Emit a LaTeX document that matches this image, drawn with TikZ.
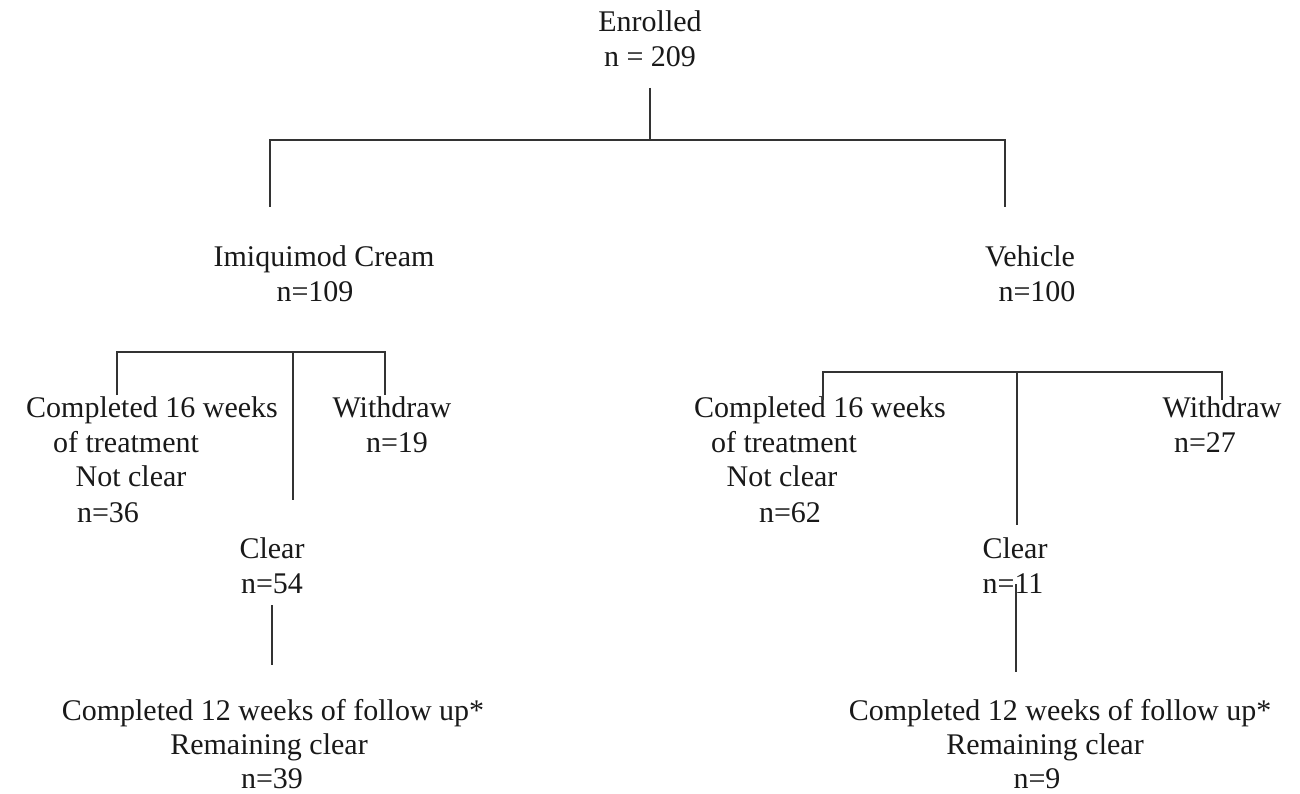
\documentclass[tikz,border=0pt]{standalone}
\usepackage{fontspec}
\setmainfont{Liberation Serif}
\begin{document}
\begin{tikzpicture}[x=1pt,y=-1pt,
  lbl/.style={anchor=base, inner sep=0pt, font=\fontsize{30}{36}\selectfont, text=black!90},
  conn/.style={draw=black!80, line width=1.5pt}]
\useasboundingbox[fill=white] (0,0) rectangle (1300,794);
% texts
\node[lbl] (enr) at (650,32) {Enrolled};
\node[lbl] (enrn) at (650,67) {n = 209};
\node[lbl] (imq) at (324,266) {Imiquimod Cream};
\node[lbl] (imqn) at (315,301) {n=109};
\node[lbl] (veh) at (1030,266) {Vehicle};
\node[lbl] (vehn) at (1037,301) {n=100};
% left branch
\node[lbl] (lc1) at (152,417) {Completed 16 weeks};
\node[lbl] (lc2) at (126,452) {of treatment};
\node[lbl] (lc3) at (131,486) {Not clear};
\node[lbl] (lc4) at (108,522) {n=36};
\node[lbl] (lw1) at (392,417) {Withdraw};
\node[lbl] (lw2) at (397,452) {n=19};
\node[lbl] (lcl1) at (272,558) {Clear};
\node[lbl] (lcl2) at (272,593) {n=54};
\node[lbl] (lf1) at (273,720) {Completed 12 weeks of follow up*};
\node[lbl] (lf2) at (269,754) {Remaining clear};
\node[lbl] (lf3) at (272,788) {n=39};
% right branch
\node[lbl] (rc1) at (820,417) {Completed 16 weeks};
\node[lbl] (rc2) at (784,452) {of treatment};
\node[lbl] (rc3) at (782,486) {Not clear};
\node[lbl] (rc4) at (790,522) {n=62};
\node[lbl] (rw1) at (1222,417) {Withdraw};
\node[lbl] (rw2) at (1205,452) {n=27};
\node[lbl] (rcl1) at (1015,558) {Clear};
\node[lbl] (rcl2) at (1013,593) {n=11};
\node[lbl] (rf1) at (1060,720) {Completed 12 weeks of follow up*};
\node[lbl] (rf2) at (1045,754) {Remaining clear};
\node[lbl] (rf3) at (1037,788) {n=9};
% connector coordinates
\coordinate (t0) at (650,88);
\coordinate (t1) at (650,140);
\coordinate (tl) at (270,140);
\coordinate (tr) at (1005,140);
\coordinate (tlb) at (270,207);
\coordinate (trb) at (1005,207);
\coordinate (la) at (117,395);
\coordinate (lat) at (117,352);
\coordinate (lbt) at (385,352);
\coordinate (lb) at (385,395);
\coordinate (lmt) at (293,352);
\coordinate (lmb) at (293,500);
\coordinate (ra) at (823,400);
\coordinate (rat) at (823,372);
\coordinate (rbt) at (1222,372);
\coordinate (rb) at (1222,400);
\coordinate (rmt) at (1017,372);
\coordinate (rmb) at (1017,525);
\coordinate (ldt) at (272,605);
\coordinate (ldb) at (272,665);
\coordinate (rdt) at (1016,584);
\coordinate (rdb) at (1016,672);
% connectors
\draw[conn] (t0) -- (t1);
\draw[conn] (tlb) -- (tl) -- (tr) -- (trb);
\draw[conn] (la) -- (lat) -- (lbt) -- (lb);
\draw[conn] (lmt) -- (lmb);
\draw[conn] (ra) -- (rat) -- (rbt) -- (rb);
\draw[conn] (rmt) -- (rmb);
\draw[conn] (ldt) -- (ldb);
\draw[conn] (rdt) -- (rdb);
\end{tikzpicture}
\end{document}
